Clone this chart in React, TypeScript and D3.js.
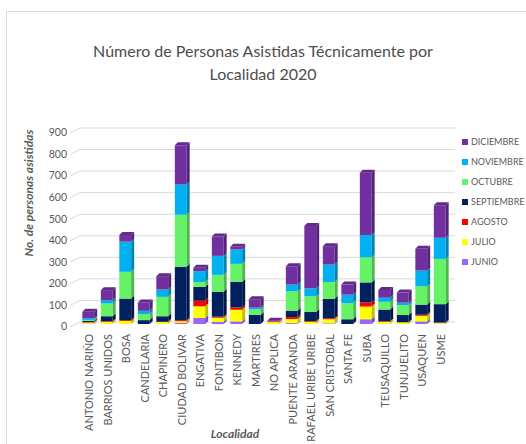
import * as d3 from "d3";
import { useEffect, useRef } from "react";

const localidades = [
  "ANTONIO NARIÑO", "BARRIOS UNIDOS", "BOSA", "CANDELARIA", "CHAPINERO",
  "CIUDAD BOLIVAR", "ENGATIVA", "FONTIBON", "KENNEDY", "MARTIRES",
  "NO APLICA", "PUENTE ARANDA", "RAFAEL URIBE URIBE", "SAN CRISTOBAL", "SANTA FE",
  "SUBA", "TEUSAQUILLO", "TUNJUELITO", "USAQUEN", "USME",
];

const junio = [2, 0, 0, 0, 0, 5, 28, 10, 12, 0, 0, 4, 0, 3, 0, 22, 0, 0, 12, 2];
const julio = [5, 10, 14, 0, 10, 8, 54, 19, 54, 0, 9, 19, 10, 19, 0, 59, 10, 8, 26, 3];
const agosto = [2, 3, 4, 0, 0, 5, 26, 5, 11, 0, 3, 9, 3, 5, 0, 19, 3, 0, 5, 2];
const septiembre = [5, 23, 100, 18, 26, 248, 64, 116, 118, 42, 0, 30, 43, 90, 22, 93, 54, 34, 47, 85];
const octubre = [5, 59, 124, 28, 90, 241, 23, 78, 84, 26, 0, 90, 73, 78, 75, 116, 36, 45, 85, 210];
const noviembre = [8, 15, 140, 15, 34, 140, 50, 88, 67, 8, 0, 31, 36, 81, 39, 104, 19, 12, 73, 98];
const diciembre = [30, 47, 31, 39, 62, 182, 16, 90, 12, 39, 3, 85, 290, 85, 47, 289, 36, 47, 101, 151];

const meses = ["JUNIO", "JULIO", "AGOSTO", "SEPTIEMBRE", "OCTUBRE", "NOVIEMBRE", "DICIEMBRE"];
const colores = ["#9966FF", "#FFFF00", "#FF0000", "#002060", "#66F266", "#00B0F0", "#7030A0"];
const yTicks = [0, 100, 200, 300, 400, 500, 600, 700, 800, 900];

const App = () => {
  const svgRef = useRef<SVGSVGElement | null>(null);

  useEffect(() => {
    const svg = d3.select(svgRef.current);
    svg.selectAll("*").remove();

    const series = [junio, julio, agosto, septiembre, octubre, noviembre, diciembre];
    const table = localidades.map((loc, i) => {
      const row: any = { loc };
      meses.forEach((m, j) => { row[m] = series[j][i]; });
      return row;
    });
    const stacked = d3.stack().keys(meses)(table);

    const x = d3.scaleBand().domain(localidades).range([79, 449]).paddingInner(0.36).paddingOuter(0.18);
    const y = d3.scaleLinear().domain([0, 900]).range([324, 130]);
    const d = 3;
    const gridLeft = 70;
    const gridRight = 455;

    // chart frame (only top and left edges are inside the picture)
    svg.append("path")
      .attr("d", "M6.5,600V11.5H600")
      .attr("fill", "none")
      .attr("stroke", "#d9d9d9");

    // title
    const title = svg.append("text")
      .attr("text-anchor", "middle")
      .attr("font-family", "Lato, 'Open Sans', sans-serif")
      .attr("font-size", 16)
      .attr("fill", "#4d4d4d");
    title.append("tspan").attr("x", 263).attr("y", 57).text("Número de Personas Asistidas Técnicamente por");
    title.append("tspan").attr("x", 263).attr("y", 80).text("Localidad 2020");

    // grid (3D wall)
    const grid = svg.append("g");
    yTicks.forEach((t) => {
      const yy = y(t);
      grid.append("path")
        .attr("d", `M${gridLeft},${yy + 3}L${gridLeft + 10},${yy - 2}L${gridRight},${yy - 2}`)
        .attr("fill", "none")
        .attr("stroke", "#d9d9d9")
        .attr("stroke-width", 1);
      svg.append("text")
        .attr("x", 67)
        .attr("y", yy + 3)
        .attr("dy", "0.32em")
        .attr("text-anchor", "end")
        .attr("font-family", "Lato, sans-serif")
        .attr("font-size", 10.5)
        .attr("fill", "#595959")
        .text(t);
    });

    // bars
    const w = x.bandwidth();
    stacked.forEach((layer, li) => {
      const base = d3.color(colores[li])!;
      const side = base.darker(0.8).toString();
      const top = base.darker(0.4).toString();
      const g = svg.append("g");
      layer.forEach((seg: any, i: number) => {
        const v0 = seg[0], v1 = seg[1];
        if (v1 - v0 <= 0) return;
        const x0 = x(localidades[i])!;
        const y0 = y(v0), y1 = y(v1);
        g.append("rect")
          .attr("x", x0).attr("y", y1)
          .attr("width", w).attr("height", y0 - y1)
          .attr("fill", colores[li]);
        g.append("path")
          .attr("d", `M${x0 + w},${y1}L${x0 + w + d},${y1 - d}L${x0 + w + d},${y0 - d}L${x0 + w},${y0}Z`)
          .attr("fill", side);
        const isTop = stacked.slice(li + 1).every((l: any) => l[i][1] - l[i][0] <= 0);
        if (isTop) {
          g.append("path")
            .attr("d", `M${x0},${y1}L${x0 + d},${y1 - d}L${x0 + w + d},${y1 - d}L${x0 + w},${y1}Z`)
            .attr("fill", top);
        }
      });
    });

    // x labels
    localidades.forEach((loc) => {
      const cx = x(loc)! + w / 2 + 1;
      svg.append("text")
        .attr("transform", `translate(${cx},334)rotate(-90)`)
        .attr("text-anchor", "end")
        .attr("dy", "0.35em")
        .attr("font-family", "Lato, sans-serif")
        .attr("font-size", 11)
        .attr("fill", "#595959")
        .text(loc);
    });

    // axis titles
    svg.append("text")
      .attr("transform", "translate(33,193)rotate(-90)")
      .attr("text-anchor", "middle")
      .attr("font-family", "Lato, sans-serif")
      .attr("font-size", 12)
      .attr("font-weight", "bold")
      .attr("font-style", "italic")
      .attr("fill", "#595959")
      .text("No. de personas asistidas");

    svg.append("text")
      .attr("x", 235)
      .attr("y", 438)
      .attr("text-anchor", "middle")
      .attr("font-family", "Lato, sans-serif")
      .attr("font-size", 12)
      .attr("font-weight", "bold")
      .attr("font-style", "italic")
      .attr("fill", "#595959")
      .text("Localidad");

    // legend, top entry is DICIEMBRE
    const legend = svg.append("g");
    meses.slice().reverse().forEach((m, i) => {
      const ci = meses.length - 1 - i;
      const ly = 142 + i * 20;
      legend.append("rect")
        .attr("x", 462).attr("y", ly - 3)
        .attr("width", 6).attr("height", 6)
        .attr("fill", colores[ci]);
      legend.append("text")
        .attr("x", 471).attr("y", ly)
        .attr("dy", "0.35em")
        .attr("font-family", "Lato, sans-serif")
        .attr("font-size", 9)
        .attr("fill", "#595959")
        .text(m);
    });
  }, []);

  return (
    <svg ref={svgRef} width={526} height={444}
      style={{ position: "absolute", left: 0, top: 0, background: "#fff" }} />
  );
};

export default App;
